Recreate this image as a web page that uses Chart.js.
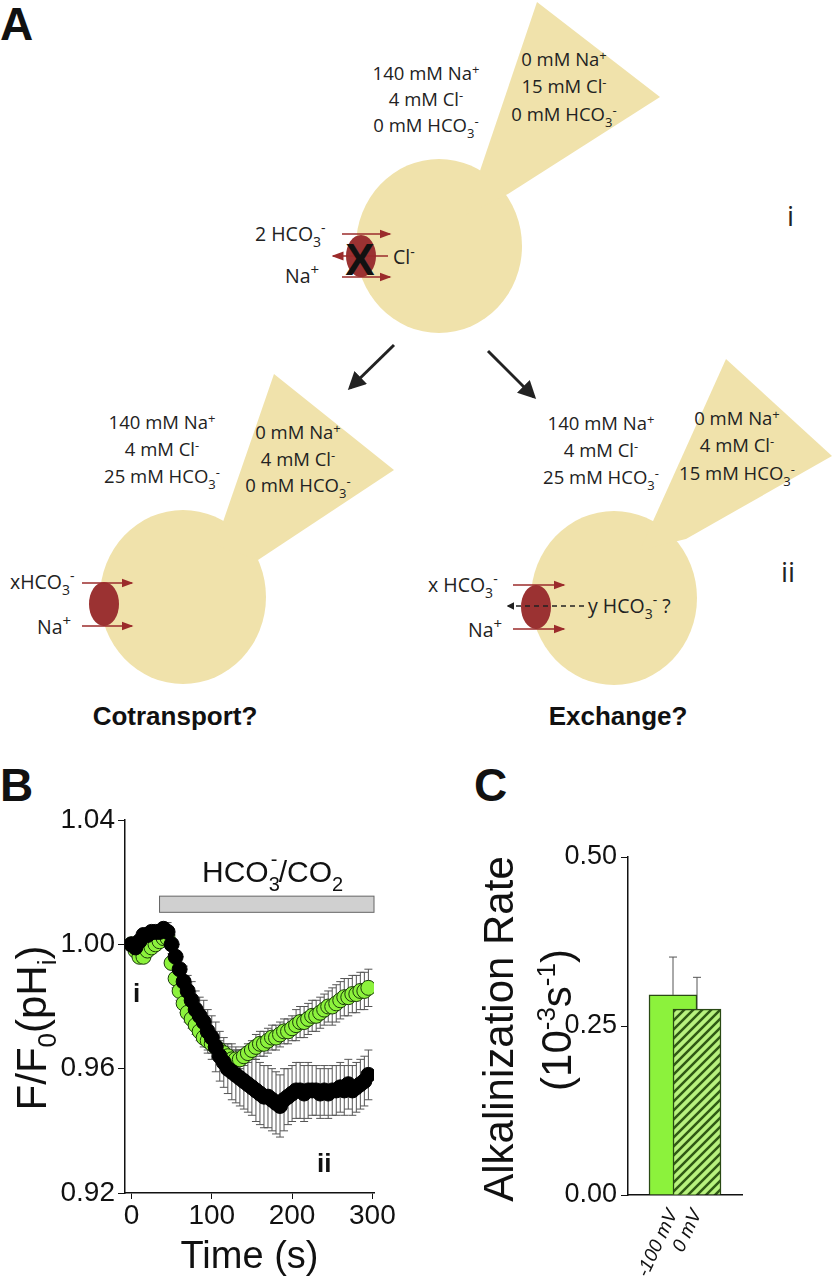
<!DOCTYPE html><html><head><meta charset="utf-8">
<script src="https://cdn.jsdelivr.net/npm/chart.js@4/dist/chart.umd.min.js"></script>
<style>
body{margin:0;width:834px;height:1280px;background:#fff;position:relative;overflow:hidden;font-family:"Liberation Sans",Arial,sans-serif}
svg{position:absolute;left:0;top:0}
.c{position:absolute}
.t{font-family:"Open Sans",sans-serif;font-size:18.5px;fill:#222}
.L{font-family:"Liberation Sans",Arial;font-weight:bold;font-size:46px;fill:#111}
</style></head><body>
<svg width="834" height="800" viewBox="0 0 834 800">
<defs><marker id="ar" markerWidth="8" markerHeight="8" refX="7" refY="4" orient="auto"><path d="M0,1 L8,4 L0,7 z" fill="#9b2b2b"/></marker>
<marker id="ab" markerWidth="6" markerHeight="6" refX="5" refY="3" orient="auto"><path d="M0,0 L6,3 L0,6 z" fill="#222"/></marker>
<marker id="bk" markerWidth="5" markerHeight="5" refX="4" refY="2.5" orient="auto"><path d="M0,0 L5,2.5 L0,5 z" fill="#222"/></marker></defs>
<text class="L" x="0" y="40">A</text>
<g fill="#f0e2ab">
<ellipse cx="439" cy="246" rx="83" ry="87"/><polygon points="465,215 537,2 660,97 508,194"/>
<ellipse cx="183" cy="597" rx="83" ry="87"/><polygon points="215,545 274,374 394,470 258,560"/>
<ellipse cx="614" cy="598" rx="83" ry="87"/><polygon points="640,550 726,359 832,456 686,539"/>
</g>
<g class="t" text-anchor="middle">
<text x="426" y="80">140 mM Na<tspan dy="-6" font-size="13">+</tspan></text>
<text x="426" y="106">4 mM Cl<tspan dy="-6" font-size="13">-</tspan></text>
<text x="426" y="132">0 mM HCO<tspan dy="6" font-size="13">3</tspan><tspan dy="-12" font-size="13">-</tspan></text>
<text x="564" y="66">0 mM Na<tspan dy="-6" font-size="13">+</tspan></text>
<text x="564" y="93">15 mM Cl<tspan dy="-6" font-size="13">-</tspan></text>
<text x="564" y="121">0 mM HCO<tspan dy="6" font-size="13">3</tspan><tspan dy="-12" font-size="13">-</tspan></text>
<text x="162" y="429">140 mM Na<tspan dy="-6" font-size="13">+</tspan></text>
<text x="162" y="456">4 mM Cl<tspan dy="-6" font-size="13">-</tspan></text>
<text x="162" y="483">25 mM HCO<tspan dy="6" font-size="13">3</tspan><tspan dy="-12" font-size="13">-</tspan></text>
<text x="298" y="439">0 mM Na<tspan dy="-6" font-size="13">+</tspan></text>
<text x="298" y="466">4 mM Cl<tspan dy="-6" font-size="13">-</tspan></text>
<text x="298" y="492">0 mM HCO<tspan dy="6" font-size="13">3</tspan><tspan dy="-12" font-size="13">-</tspan></text>
<text x="601" y="430">140 mM Na<tspan dy="-6" font-size="13">+</tspan></text>
<text x="601" y="457">4 mM Cl<tspan dy="-6" font-size="13">-</tspan></text>
<text x="601" y="484">25 mM HCO<tspan dy="6" font-size="13">3</tspan><tspan dy="-12" font-size="13">-</tspan></text>
<text x="737" y="425">0 mM Na<tspan dy="-6" font-size="13">+</tspan></text>
<text x="737" y="452">4 mM Cl<tspan dy="-6" font-size="13">-</tspan></text>
<text x="737" y="480">15 mM HCO<tspan dy="6" font-size="13">3</tspan><tspan dy="-12" font-size="13">-</tspan></text>
</g>
<text class="t" x="787" y="226" style="font-size:28px">i</text>
<text class="t" x="781" y="582" style="font-size:28px">ii</text>
<ellipse cx="361" cy="256" rx="15" ry="21" fill="#9b3232"/>
<line x1="342" y1="234" x2="390" y2="234" stroke="#9b2b2b" stroke-width="1.5" marker-end="url(#ar)"/>
<line x1="388" y1="256" x2="333" y2="256" stroke="#9b2b2b" stroke-width="1.5" marker-end="url(#ar)"/>
<line x1="342" y1="277" x2="390" y2="277" stroke="#9b2b2b" stroke-width="1.5" marker-end="url(#ar)"/>
<text x="360" y="275" text-anchor="middle" font-family="Liberation Sans" font-weight="bold" font-size="44" fill="#111">X</text>
<g class="t" style="font-size:19.5px">
<text x="255" y="241">2 HCO<tspan dy="6" font-size="14">3</tspan><tspan dy="-14" font-size="14">-</tspan></text>
<text x="285" y="283">Na<tspan dy="-8" font-size="15">+</tspan></text>
<text x="393" y="264">Cl<tspan dy="-7" font-size="14">-</tspan></text>
</g>
<line x1="394" y1="345" x2="350" y2="388" stroke="#222" stroke-width="3" marker-end="url(#ab)"/>
<line x1="488" y1="351" x2="534" y2="397" stroke="#222" stroke-width="3" marker-end="url(#ab)"/>
<ellipse cx="104" cy="604" rx="15" ry="22" fill="#9b3232"/>
<line x1="82" y1="583" x2="132" y2="583" stroke="#9b2b2b" stroke-width="1.5" marker-end="url(#ar)"/>
<line x1="82" y1="626" x2="132" y2="626" stroke="#9b2b2b" stroke-width="1.5" marker-end="url(#ar)"/>
<g class="t" style="font-size:19.5px">
<text x="10" y="589">xHCO<tspan dy="6" font-size="14">3</tspan><tspan dy="-14" font-size="14">-</tspan></text>
<text x="37" y="634">Na<tspan dy="-8" font-size="15">+</tspan></text>
</g>
<ellipse cx="536" cy="607" rx="15" ry="22" fill="#9b3232"/>
<line x1="513" y1="585" x2="564" y2="585" stroke="#9b2b2b" stroke-width="1.5" marker-end="url(#ar)"/>
<line x1="513" y1="629" x2="564" y2="629" stroke="#9b2b2b" stroke-width="1.5" marker-end="url(#ar)"/>
<line x1="584" y1="606" x2="508" y2="606" stroke="#222" stroke-width="1.5" stroke-dasharray="5,4" marker-end="url(#bk)"/>
<g class="t" style="font-size:19.5px">
<text x="428" y="592">x HCO<tspan dy="6" font-size="14">3</tspan><tspan dy="-14" font-size="14">-</tspan></text>
<text x="468" y="637">Na<tspan dy="-8" font-size="15">+</tspan></text>
<text x="588" y="613">y HCO<tspan dy="6" font-size="14">3</tspan><tspan dy="-14" font-size="14">-</tspan><tspan dy="8"> ?</tspan></text>
</g>
<g font-family="Liberation Sans" font-weight="bold" font-size="26" fill="#111" text-anchor="middle">
<text x="175" y="725">Cotransport?</text><text x="618" y="725">Exchange?</text>
</g>
</svg>
<div class="c" style="left:0;top:758px;font:bold 46px 'Liberation Sans';color:#111">B</div>
<div class="c" style="left:474px;top:758px;font:bold 46px 'Liberation Sans';color:#111">C</div>
<div class="c" style="left:0;top:780px;width:420px;height:500px"><canvas id="b"></canvas></div>
<div class="c" style="left:480px;top:800px;width:354px;height:480px"><canvas id="cc"></canvas></div>
<script>
const time=[0,5,10,15,20,25,30,35,40,45,50,55,60,65,70,75,80,85,90,95,100,105,110,115,120,125,130,135,140,145,150,155,160,165,170,175,180,185,190,195,200,205,210,215,220,225,230,235,240,245,250,255,260,265,270,275,280,285,290,295];
const blackVals=[1.000,0.999,1.001,1.003,1.003,1.004,1.004,1.004,1.005,1.004,1.000,0.996,0.992,0.988,0.985,0.982,0.979,0.977,0.975,0.972,0.970,0.967,0.964,0.962,0.960,0.959,0.958,0.957,0.956,0.955,0.954,0.953,0.952,0.951,0.951,0.950,0.949,0.948,0.950,0.951,0.952,0.953,0.953,0.952,0.953,0.953,0.953,0.952,0.953,0.952,0.953,0.953,0.954,0.953,0.955,0.953,0.954,0.955,0.956,0.958];
const blackErr=[0.002,0.002,0.002,0.002,0.002,0.002,0.002,0.002,0.002,0.003,0.003,0.004,0.004,0.005,0.005,0.006,0.006,0.006,0.007,0.007,0.007,0.008,0.008,0.008,0.008,0.009,0.009,0.009,0.009,0.009,0.009,0.010,0.010,0.010,0.010,0.010,0.010,0.010,0.010,0.009,0.009,0.009,0.009,0.009,0.009,0.008,0.008,0.008,0.008,0.008,0.008,0.008,0.008,0.008,0.008,0.008,0.008,0.008,0.008,0.008];
const greenVals=[1.000,0.998,0.996,0.996,0.998,0.999,1.000,1.001,1.002,1.002,0.994,0.989,0.985,0.981,0.978,0.976,0.974,0.972,0.970,0.969,0.968,0.967,0.966,0.965,0.964,0.963,0.963,0.963,0.964,0.965,0.966,0.967,0.968,0.968,0.969,0.970,0.970,0.971,0.972,0.972,0.973,0.974,0.975,0.975,0.976,0.977,0.977,0.978,0.979,0.980,0.980,0.981,0.982,0.983,0.983,0.984,0.984,0.985,0.985,0.986];
const greenErr=[0.001,0.001,0.001,0.001,0.001,0.001,0.001,0.001,0.002,0.002,0.002,0.003,0.003,0.003,0.003,0.003,0.003,0.003,0.003,0.003,0.003,0.003,0.003,0.003,0.003,0.003,0.003,0.003,0.003,0.003,0.003,0.004,0.004,0.004,0.004,0.004,0.004,0.004,0.004,0.004,0.004,0.005,0.005,0.005,0.005,0.005,0.005,0.005,0.005,0.005,0.006,0.006,0.006,0.006,0.006,0.006,0.006,0.006,0.006,0.006];
const yTicksB=[0.92,0.96,1.00,1.04];
const xTicksB=[0,100,200,300];
const barCats=["-100 mV","0 mV"];
const barVals=[0.296,0.275];
const barErr=[0.056,0.047];
const yTicksC=[0,0.25,0.5];
const NF='"Liberation Sans"';

const mk=(v)=>time.map((t,i)=>({x:t,y:v[i]}));
const errPlugin={id:'err',beforeDatasetsDraw(ch){
  const ctx=ch.ctx,xs=ch.scales.x,ys=ch.scales.y;
  ctx.save();ctx.strokeStyle='#555';ctx.lineWidth=1;
  ch.data.datasets.forEach(ds=>{if(!ds.err)return;ds.data.forEach((p,i)=>{
    const x=xs.getPixelForValue(p.x),y1=ys.getPixelForValue(p.y+ds.err[i]),y2=ys.getPixelForValue(ds.both?p.y-ds.err[i]:p.y);
    ctx.beginPath();ctx.moveTo(x,y1);ctx.lineTo(x,y2);ctx.moveTo(x-4,y1);ctx.lineTo(x+4,y1);
    if(ds.both){ctx.moveTo(x-4,y2);ctx.lineTo(x+4,y2);}ctx.stroke();});});
  ctx.restore();}};
const bDeco={id:'bdeco',beforeDatasetsDraw(ch){
  const ctx=ch.ctx,xs=ch.scales.x,ys=ch.scales.y;ctx.save();
  const x1=xs.getPixelForValue(35),x2=xs.getPixelForValue(302),y1=ys.getPixelForValue(1.0155),y2=ys.getPixelForValue(1.0103);
  ctx.fillStyle='#d0d0d0';ctx.strokeStyle='#666';ctx.fillRect(x1,y1,x2-x1,y2-y1);ctx.strokeRect(x1,y1,x2-x1,y2-y1);
  ctx.fillStyle='#111';ctx.textBaseline='alphabetic';
  let x=202,y=102;ctx.font='30px '+NF;ctx.fillText('HCO',x,y);x+=ctx.measureText('HCO').width;
  ctx.font='20px '+NF;ctx.fillText('3',x,y+9);ctx.fillText('-',x+2,y-16);x+=10;
  ctx.font='30px '+NF;ctx.fillText('/CO',x,y);x+=ctx.measureText('/CO').width;
  ctx.font='20px '+NF;ctx.fillText('2',x,y+9);
  ctx.font='bold 26px "Liberation Sans"';ctx.fillText('i',133,222);ctx.fillText('ii',317,392);
  ctx.translate(34,248);ctx.rotate(-Math.PI/2);
  const parts=[['F/F',0],['0',1],['(pH',0],['i',1],[')',0]];
  let w=0;parts.forEach(p=>{ctx.font=(p[1]?'26px ':'42px ')+'"Liberation Sans"';w+=ctx.measureText(p[0]).width;});
  let xx=-w/2;parts.forEach(p=>{ctx.font=(p[1]?'26px ':'42px ')+'"Liberation Sans"';ctx.fillText(p[0],xx,p[1]?22:12);xx+=ctx.measureText(p[0]).width;});
  ctx.restore();}};
new Chart(document.getElementById('b'),{type:'scatter',
 data:{datasets:[
  {data:mk(blackVals),err:blackErr,both:true,backgroundColor:'#000',borderColor:'#000',pointRadius:7.5,borderWidth:1},
  {data:mk(greenVals),err:greenErr,both:true,backgroundColor:'#8cf23c',borderColor:'#1a3a0a',pointRadius:7.5,borderWidth:1}]},
 options:{responsive:true,maintainAspectRatio:false,animation:false,layout:{padding:{top:40,right:46}},
  plugins:{legend:{display:false},tooltip:{enabled:false}},
  scales:{x:{type:'linear',min:-8,max:302,afterBuildTicks:s=>{s.ticks=xTicksB.map(v=>({value:v}))},
    afterFit:s=>{s.height=87},
    ticks:{color:'#111',font:{size:28,family:NF},maxRotation:0,padding:0},
    grid:{drawOnChartArea:false,color:'#111',tickLength:6},border:{color:'#111',width:1.5},
    title:{display:true,text:'Time (s)',color:'#111',font:{size:38,family:NF},padding:0}},
   y:{min:0.92,max:1.04,afterBuildTicks:s=>{s.ticks=yTicksB.map(v=>({value:v}))},afterFit:s=>{s.width=125},
    ticks:{color:'#111',font:{size:28,family:NF},callback:v=>v.toFixed(2),padding:3},
    grid:{drawOnChartArea:false,color:'#111',tickLength:7},border:{color:'#111',width:1.5}}}},
 plugins:[errPlugin,bDeco]});

const pc=document.createElement('canvas');pc.width=9;pc.height=9;const px=pc.getContext('2d');
px.fillStyle='#b8f27e';px.fillRect(0,0,9,9);px.strokeStyle='#2f5a14';px.lineWidth=2.5;
px.beginPath();px.moveTo(0,9);px.lineTo(9,0);px.moveTo(-2,2);px.lineTo(2,-2);px.moveTo(7,11);px.lineTo(11,7);px.stroke();
const ctxC=document.getElementById('cc').getContext('2d');const pat=ctxC.createPattern(pc,'repeat');
new Chart(ctxC,{type:'bar',
 data:{datasets:[{data:barCats.map((c,i)=>({x:i+1,y:barVals[i]})),err:barErr,
  backgroundColor:['#8cf23c',pat],borderColor:'#2a4a14',borderWidth:1.5,barThickness:48}]},
 options:{responsive:true,maintainAspectRatio:false,animation:false,layout:{padding:{top:57,right:92}},
  plugins:{legend:{display:false},tooltip:{enabled:false}},
  scales:{x:{type:'linear',min:0.3125,max:2.6875,afterBuildTicks:s=>{s.ticks=[1,2].map(v=>({value:v}))},afterFit:s=>{s.height=85},
    ticks:{color:'#111',font:{size:19,family:NF,style:'italic'},minRotation:65,maxRotation:65,callback:v=>barCats[v-1]||''},
    grid:{display:false},border:{display:true,color:'#111',width:1.5}},
   y:{min:0,max:0.5,afterBuildTicks:s=>{s.ticks=yTicksC.map(v=>({value:v}))},afterFit:s=>{s.width=148},
    ticks:{color:'#111',font:{size:27,family:NF},callback:v=>v.toFixed(2),padding:4},
    grid:{drawOnChartArea:false,color:'#111',tickLength:7},border:{color:'#111',width:1.5}}}},
 plugins:[errPlugin,{id:'ct',afterDraw(ch){const ctx=ch.ctx;ctx.save();ctx.fillStyle='#111';ctx.textAlign='center';
  ctx.translate(33,229);ctx.rotate(-Math.PI/2);ctx.font='42px "Liberation Sans"';ctx.fillText('Alkalinization Rate',0,0);ctx.restore();
  ctx.save();ctx.fillStyle='#111';ctx.translate(91,220);ctx.rotate(-Math.PI/2);
  const parts=[['(10',0],['-3',1],['s',0],['-1',1],[')',0]];let w=0;
  const f=p=>(p[1]?'26px ':'42px ')+'"Liberation Sans"';
  parts.forEach(p=>{ctx.font=f(p);w+=ctx.measureText(p[0]).width;});
  let x=-w/2;parts.forEach(p=>{ctx.font=f(p);ctx.fillText(p[0],x,p[1]?-16:0);x+=ctx.measureText(p[0]).width;});
  ctx.restore();}}]});
</script></body></html>
